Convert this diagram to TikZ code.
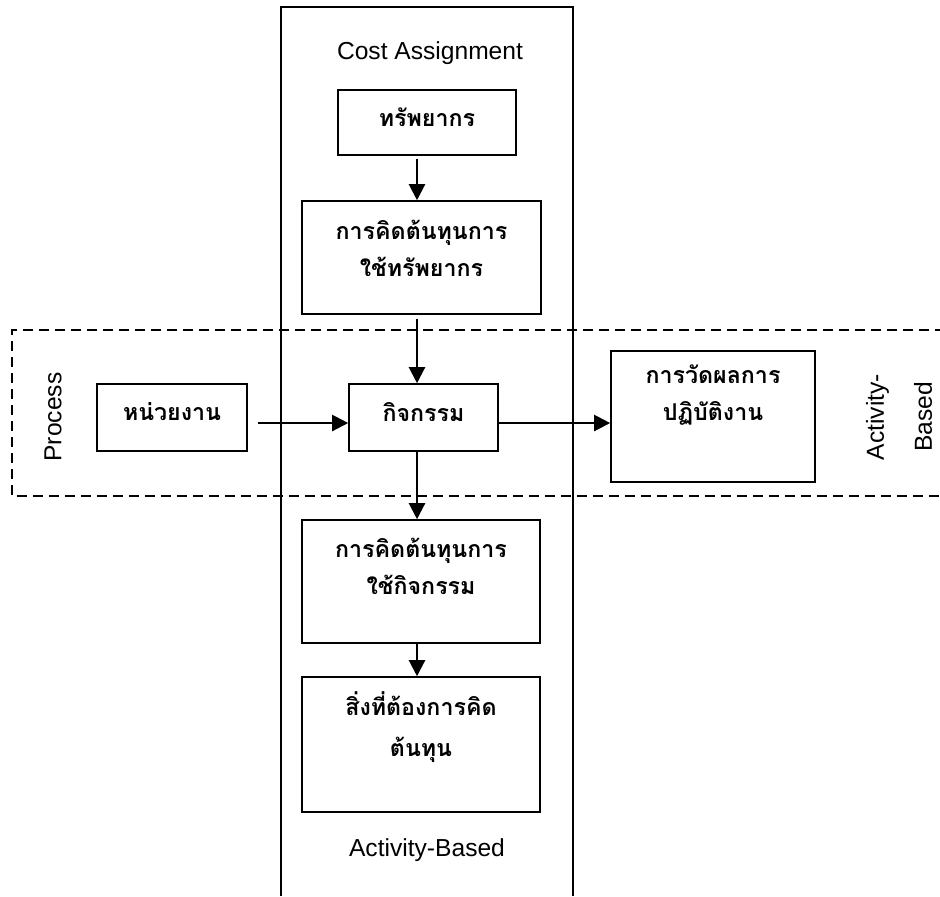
\documentclass[tikz,border=0pt]{standalone}
\usepackage{fontspec}
\setmainfont{Liberation Sans}
\newfontfamily\thai[Script=Thai]{Loma}
\usetikzlibrary{arrows.meta}

\begin{document}
\begin{tikzpicture}[x=0.5pt,y=-0.5pt,
	box/.style={draw,line width=0.8pt,inner sep=0pt},
	th/.style={font=\thai\bfseries\fontsize{11.6}{18.5}\selectfont,align=center,inner sep=0pt},
	en/.style={font=\fontsize{12.3}{15}\selectfont,inner sep=0pt},
	arr/.style={-{Triangle[length=8pt,width=8pt]},line width=1.1pt}]
	\useasboundingbox (0,0) rectangle (940,896);
	% frames
	\draw[line width=0.8pt] (281,896) |- (573,7) -- (573,896);
	\draw[dash pattern=on 5pt off 3pt,line width=0.9pt] (945,330) -| (12,496) -- (945,496);
	\coordinate (ax) at (417,0);
	\coordinate (ay) at (0,423);
	% boxes
	\node[box,minimum width=89pt,minimum height=32.5pt] at (427,122.5) (r) {};
	\node[box,minimum width=119.5pt,minimum height=56.5pt] at (421.5,257.5) (rc) {};
	\node[box,minimum width=75pt,minimum height=33.5pt] at (172,417.5) (u) {};
	\node[box,minimum width=74.5pt,minimum height=33.5pt] at (423.5,417.5) (a) {};
	\node[box,minimum width=102pt,minimum height=65.5pt] at (713,416.5) (p) {};
	\node[box,minimum width=119pt,minimum height=61.5pt] at (421,581.5) (ac) {};
	\node[box,minimum width=119pt,minimum height=67.5pt] at (421,744.5) (o) {};
	% texts
	\node[th] at (427,117) (rt) {ทรัพยากร};
	\node[th] at (421.5,248) (rct) {การคิดต้นทุนการ\\ใช้ทรัพยากร};
	\node[th] at (172,412) (ut) {หน่วยงาน};
	\node[th] at (423.5,412) (at) {กิจกรรม};
	\node[th] at (713,395) (pt) {การวัดผลการ\\ปฏิบัติงาน};
	\node[th] at (421,566) (act) {การคิดต้นทุนการ\\ใช้กิจกรรม};
	\node[th,font=\thai\bfseries\fontsize{11.6}{20.5}\selectfont] at (421,727) (ot) {สิ่งที่ต้องการคิด\\ต้นทุน};
	\node[en] at (430,53) (ca) {Cost Assignment};
	\node[en] at (427,850) (ab) {Activity-Based};
	\node[en,rotate=90] at (53,417) (pr) {Process};
	\node[en,rotate=90,align=center] at (899,417) (abr) {Activity-\\[9pt]Based};
	% arrows
	\draw[arr,shorten <=1.5pt] (r.south -| ax) -- (rc.north -| ax);
	\draw[arr,shorten <=2pt] (rc.south -| ax) -- (a.north -| ax);
	\draw[arr] (a.south -| ax) -- (ac.north -| ax);
	\draw[arr] (ac.south -| ax) -- (o.north -| ax);
	\draw[arr,shorten <=5pt] (u.east |- ay) -- (a.west |- ay);
	\draw[arr] (a.east |- ay) -- (p.west |- ay);
\end{tikzpicture}
\end{document}
